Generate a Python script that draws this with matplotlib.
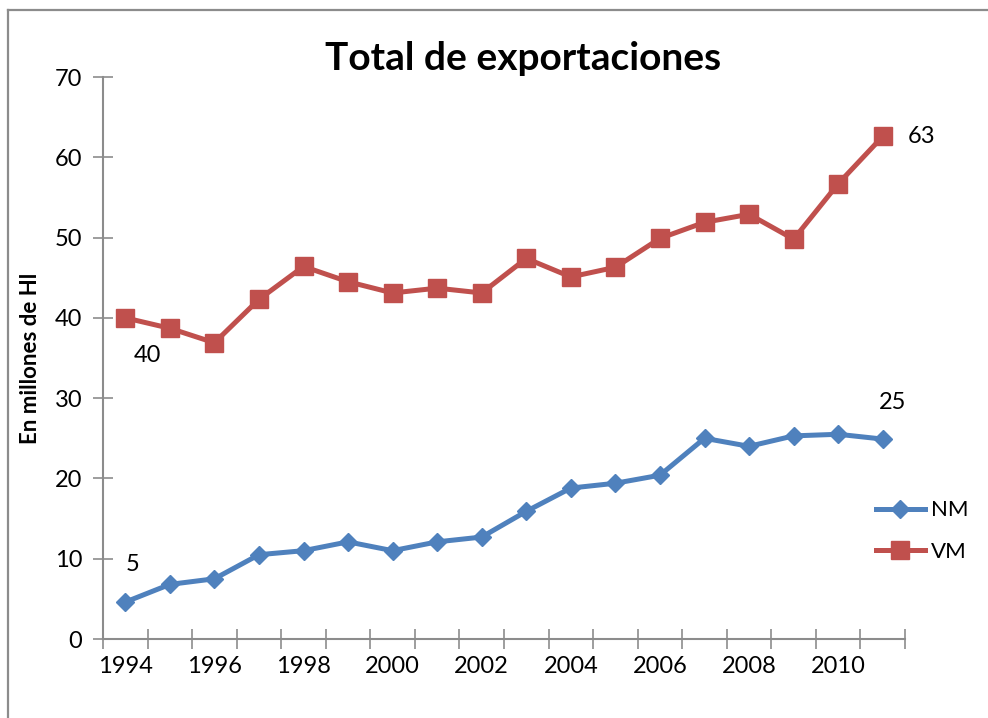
import matplotlib
matplotlib.use("Agg")
import matplotlib.pyplot as plt
from matplotlib.lines import Line2D

plt.rcParams['font.family'] = ['Lato', 'DejaVu Sans']

years = list(range(1994, 2012))
nm = [4.6, 6.8, 7.5, 10.5, 11.0, 12.1, 11.0, 12.1, 12.7, 15.9,
      18.8, 19.4, 20.4, 25.0, 24.0, 25.3, 25.5, 24.9]
vm = [40.0, 38.7, 36.9, 42.3, 46.4, 44.5, 43.1, 43.7, 43.1, 47.4,
      45.1, 46.3, 49.9, 51.9, 52.9, 49.8, 56.7, 62.6]
tick_years = list(range(1994, 2011, 2))

blue = '#4F81BD'
red = '#C0504D'
grey = '#8C8C8C'

fig = plt.figure(figsize=(9.88, 7.18), dpi=100)
# chart area border (only left and top visible in the crop)
bx, by = 8 / 988, 1 - 10 / 718
fig.add_artist(Line2D([bx, bx], [0, by], transform=fig.transFigure, color=grey, lw=1.6))
fig.add_artist(Line2D([bx, 1], [by, by], transform=fig.transFigure, color=grey, lw=1.6))

ax = fig.add_axes([103 / 988, 1 - 639 / 718, 802 / 988, 562 / 718])

x = list(range(len(years)))
ax.plot(x, nm, color=blue, lw=3.6, marker='D', markersize=9, label='NM')
ax.plot(x, vm, color=red, lw=3.6, marker='s', markersize=13, label='VM')

ax.set_xlim(-0.5, len(years) - 0.5)
ax.set_ylim(0, 70)
ax.set_yticks(range(0, 71, 10))
ax.set_xticks([years.index(y) for y in tick_years])
ax.set_xticklabels([str(y) for y in tick_years])
ax.set_xticks([i - 0.5 for i in range(len(years) + 1)], minor=True)
ax.tick_params(axis='x', which='major', length=0, labelsize=17, pad=12)
ax.tick_params(axis='x', which='minor', length=14, width=1.2, color=grey, direction='inout')
ax.tick_params(axis='y', length=14, width=1.2, color=grey, direction='inout',
               labelsize=17, pad=8)

for side in ['top', 'right']:
    ax.spines[side].set_visible(False)
for side in ['left', 'bottom']:
    ax.spines[side].set_color(grey)
    ax.spines[side].set_linewidth(1.5)

ax.set_ylabel('En millones de Hl', fontsize=16, fontweight='bold', labelpad=10)
fig.text(523 / 988, 1 - 58 / 718, 'Total de exportaciones', fontsize=28,
         fontweight='bold', ha='center', va='center')

# data labels
ax.annotate(str(round(nm[0])), (x[0], nm[0]), xytext=(5, 27), textcoords='offset points',
            ha='center', va='center', fontsize=17)
ax.annotate(str(round(vm[0])), (x[0], vm[0]), xytext=(16, -27), textcoords='offset points',
            ha='center', va='center', fontsize=17)
ax.annotate(str(round(nm[-1])), (x[-1], nm[-1]), xytext=(7, 26), textcoords='offset points',
            ha='center', va='center', fontsize=17)
ax.annotate(str(round(vm[-1])), (x[-1], vm[-1]), xytext=(28, 0), textcoords='offset points',
            ha='center', va='center', fontsize=17)

ax.legend(loc='center left', bbox_to_anchor=(858 / 988, 1 - 531 / 718),
          bbox_transform=fig.transFigure, frameon=False, fontsize=16,
          handlelength=2.2, labelspacing=0.95, handletextpad=0.3, borderpad=0.3)

fig.savefig('out.png', dpi=100)
